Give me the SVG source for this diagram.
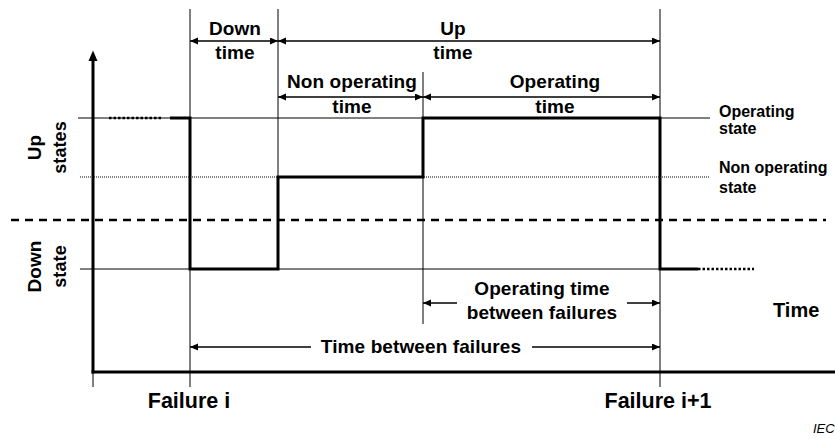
<svg xmlns="http://www.w3.org/2000/svg" width="835" height="438" viewBox="0 0 835 438">
  <defs>
    <marker id="ah" markerUnits="userSpaceOnUse" markerWidth="9" markerHeight="8" refX="8" refY="3.5" orient="auto-start-reverse">
      <path d="M0,0 L8,3.5 L0,7 z" fill="#000"/>
    </marker>
    <style>
      .thin { stroke: #000; stroke-width: 1; fill: none; }
      .dim { stroke: #000; stroke-width: 1.3; fill: none; }
      .dbl { marker-start: url(#ah); marker-end: url(#ah); }
      .end { marker-end: url(#ah); }
      .sig { stroke: #000; stroke-width: 3; fill: none; stroke-linejoin: miter; }
      .axis { stroke: #000; stroke-width: 3; fill: none; }
      text { font-family: "Liberation Sans", Arial, sans-serif; font-weight: bold; fill: #000; }
      .lbl { font-size: 19px; text-anchor: middle; letter-spacing: 0.1px; }
      .side { font-size: 16px; }
      .big { font-size: 21.5px; text-anchor: middle; }
    </style>
  </defs>
  <rect width="835" height="438" fill="#fff"/>

  <!-- reference levels and event markers -->
  <g id="grid">
    <line class="thin" x1="78" y1="118" x2="710" y2="118"/>
    <line class="thin" x1="80" y1="177" x2="710" y2="177" stroke-dasharray="1 1"/>
    <line class="thin" x1="80" y1="269" x2="660" y2="269"/>
    <line x1="11" y1="220" x2="826" y2="220" stroke="#000" stroke-width="2.5" stroke-dasharray="8 6"/>
    <line class="thin" x1="190" y1="9" x2="190" y2="387"/>
    <line class="thin" x1="278" y1="9" x2="278" y2="177"/>
    <line class="thin" x1="423" y1="72" x2="423" y2="324"/>
    <line class="thin" x1="660" y1="9" x2="660" y2="387"/>
    <line class="thin" x1="93" y1="372" x2="93" y2="387"/>
  </g>

  <!-- axes -->
  <g id="axes">
    <line class="axis" x1="93" y1="60" x2="93" y2="373.5"/>
    <path d="M93,50.5 L88.5,61 L97.5,61 z" fill="#000"/>
    <line class="axis" x1="91.5" y1="372" x2="835" y2="372"/>
  </g>

  <!-- state signal -->
  <g id="signal">
    <line x1="109" y1="118" x2="163" y2="118" stroke="#000" stroke-width="2.5" stroke-dasharray="2.5 2"/>
    <path class="sig" d="M170,118 H190 V269 H278 V177 H423 V118 H660 V269 H698"/>
    <line x1="698" y1="269" x2="754" y2="269" stroke="#000" stroke-width="2.5" stroke-dasharray="2.5 2"/>
  </g>

  <!-- dimension connectors -->
  <g id="connectors">
    <line class="dim dbl" x1="190" y1="41" x2="278" y2="41"/>
    <line class="dim dbl" x1="278" y1="41" x2="660" y2="41"/>
    <line class="dim dbl" x1="278" y1="97" x2="423" y2="97"/>
    <line class="dim dbl" x1="423" y1="97" x2="660" y2="97"/>
    <line class="dim end" x1="457" y1="303" x2="423" y2="303"/>
    <line class="dim end" x1="627" y1="303" x2="660" y2="303"/>
    <line class="dim end" x1="311" y1="347" x2="190" y2="347"/>
    <line class="dim end" x1="532" y1="347" x2="660" y2="347"/>
  </g>

  <g id="down-time">
    <text class="lbl" x="235" y="35">Down</text>
    <text class="lbl" x="235" y="58.5">time</text>
  </g>
  <g id="up-time">
    <text class="lbl" x="453" y="35">Up</text>
    <text class="lbl" x="453" y="59">time</text>
  </g>
  <g id="non-operating-time">
    <text class="lbl" x="352" y="88">Non operating</text>
    <text class="lbl" x="352" y="112.5">time</text>
  </g>
  <g id="operating-time">
    <text class="lbl" x="555" y="88">Operating</text>
    <text class="lbl" x="555" y="112.5">time</text>
  </g>
  <g id="operating-time-between-failures">
    <text class="lbl" x="542" y="295">Operating time</text>
    <text class="lbl" x="542" y="318.5">between failures</text>
  </g>
  <g id="time-between-failures">
    <text class="lbl" x="421" y="353">Time between failures</text>
  </g>

  <g id="up-states">
    <g transform="translate(40.5,147.5) rotate(-90)">
      <text class="lbl" x="0" y="0">Up</text>
      <text class="lbl" x="0" y="25.5" style="font-size:18px">states</text>
    </g>
  </g>
  <g id="down-state">
    <g transform="translate(40.5,266.5) rotate(-90)">
      <text class="lbl" x="0" y="0">Down</text>
      <text class="lbl" x="0" y="25.5" style="font-size:18px">state</text>
    </g>
  </g>

  <g id="operating-state">
    <text class="side" x="719" y="116.5">Operating</text>
    <text class="side" x="719" y="134">state</text>
  </g>
  <g id="non-operating-state">
    <text class="side" x="719" y="173">Non operating</text>
    <text class="side" x="719" y="193">state</text>
  </g>

  <g id="time-axis-label">
    <text x="773" y="317" style="font-size:20px">Time</text>
  </g>
  <g id="failure-i">
    <text class="big" x="189" y="408">Failure i</text>
  </g>
  <g id="failure-i1">
    <text class="big" x="658" y="408">Failure i+1</text>
  </g>
  <g id="source">
    <text x="813" y="433" style="font-size:13px;font-weight:normal;font-style:italic">IEC</text>
  </g>
</svg>
